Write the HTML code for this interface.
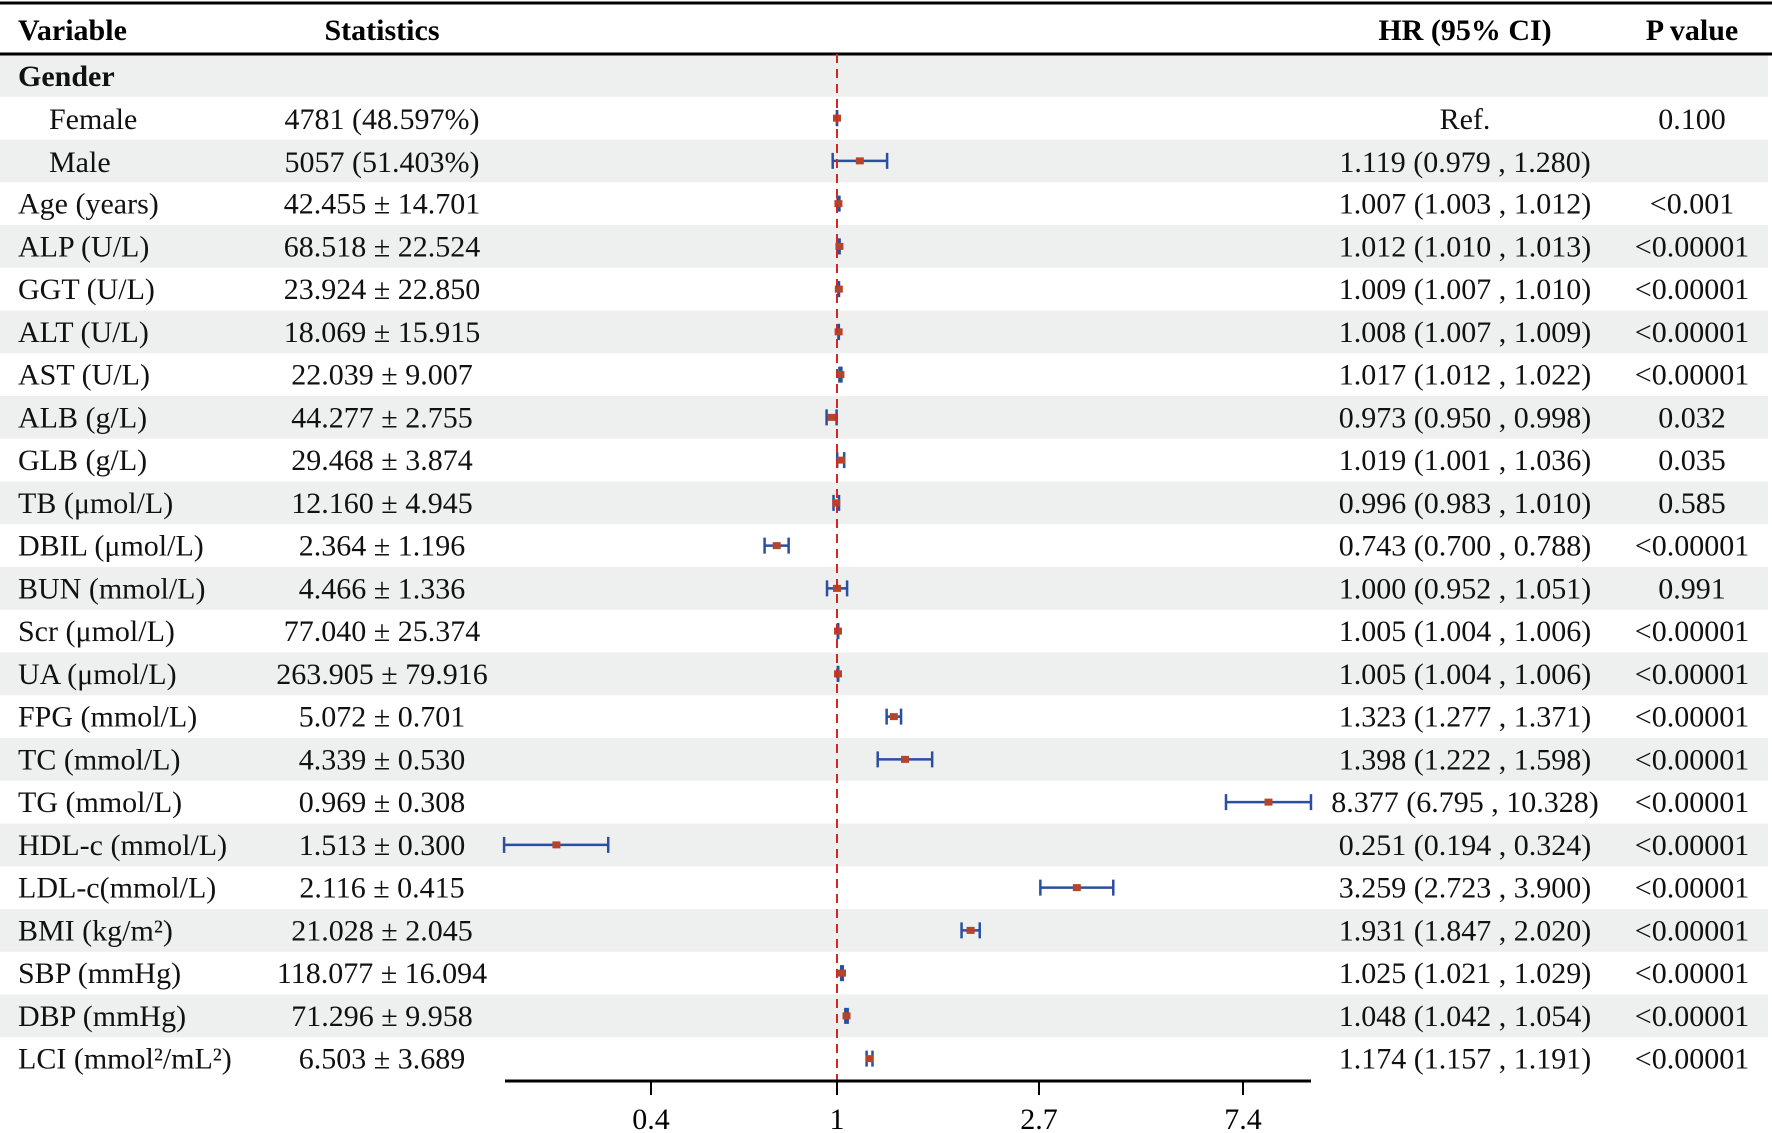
<!DOCTYPE html>
<html><head><meta charset="utf-8"><style>
html,body{margin:0;padding:0;background:#fff;}
svg{display:block;font-family:"Liberation Serif",serif;}
</style></head><body>
<svg id="s" width="1772" height="1133" viewBox="0 0 1772 1133" xmlns="http://www.w3.org/2000/svg">
<g id="bands"></g>
<line x1="0" y1="3" x2="1772" y2="3" stroke="#000" stroke-width="3"/>
<line x1="0" y1="54" x2="1772" y2="54" stroke="#000" stroke-width="3"/>
<g font-size="30" font-weight="bold">
<text x="18" y="40">Variable</text>
<text x="382" y="40" text-anchor="middle">Statistics</text>
<text x="1465" y="40" text-anchor="middle">HR (95% CI)</text>
<text x="1692" y="40" text-anchor="middle">P value</text>
</g>
<g id="txt" font-size="30" fill="#111">
<text x="18" y="86" font-weight="bold">Gender</text>
<text x="49" y="129">Female</text><text x="382" y="129" text-anchor="middle">4781 (48.597%)</text><text x="1465" y="129" text-anchor="middle">Ref.</text><text x="1692" y="129" text-anchor="middle">0.100</text>
<text x="49" y="172">Male</text><text x="382" y="172" text-anchor="middle">5057 (51.403%)</text><text x="1465" y="172" text-anchor="middle">1.119 (0.979 , 1.280)</text>
</g>
<g id="rest" font-size="30" fill="#111"></g>
<g id="plot"></g>
<line x1="837" y1="54" x2="837" y2="1081" stroke="#d7261e" stroke-width="2" stroke-dasharray="9,6"/>
<line x1="505" y1="1081" x2="1311" y2="1081" stroke="#000" stroke-width="3"/>
<g stroke="#000" stroke-width="2">
<line x1="651" y1="1081" x2="651" y2="1095"/><line x1="837" y1="1081" x2="837" y2="1095"/>
<line x1="1039" y1="1081" x2="1039" y2="1095"/><line x1="1243" y1="1081" x2="1243" y2="1095"/>
</g>
<g font-size="30" text-anchor="middle">
<text x="651" y="1129">0.4</text><text x="837" y="1129">1</text><text x="1039" y="1129">2.7</text><text x="1243" y="1129">7.4</text>
</g>
</svg>
<script>
var rows=[
["Age (years)","42.455 ± 14.701","1.007 (1.003 , 1.012)","<0.001",1.007,1.003,1.012],
["ALP (U/L)","68.518 ± 22.524","1.012 (1.010 , 1.013)","<0.00001",1.012,1.010,1.013],
["GGT (U/L)","23.924 ± 22.850","1.009 (1.007 , 1.010)","<0.00001",1.009,1.007,1.010],
["ALT (U/L)","18.069 ± 15.915","1.008 (1.007 , 1.009)","<0.00001",1.008,1.007,1.009],
["AST (U/L)","22.039 ± 9.007","1.017 (1.012 , 1.022)","<0.00001",1.017,1.012,1.022],
["ALB (g/L)","44.277 ± 2.755","0.973 (0.950 , 0.998)","0.032",0.973,0.950,0.998],
["GLB (g/L)","29.468 ± 3.874","1.019 (1.001 , 1.036)","0.035",1.019,1.001,1.036],
["TB (μmol/L)","12.160 ± 4.945","0.996 (0.983 , 1.010)","0.585",0.996,0.983,1.010],
["DBIL (μmol/L)","2.364 ± 1.196","0.743 (0.700 , 0.788)","<0.00001",0.743,0.700,0.788],
["BUN (mmol/L)","4.466 ± 1.336","1.000 (0.952 , 1.051)","0.991",1.000,0.952,1.051],
["Scr (μmol/L)","77.040 ± 25.374","1.005 (1.004 , 1.006)","<0.00001",1.005,1.004,1.006],
["UA (μmol/L)","263.905 ± 79.916","1.005 (1.004 , 1.006)","<0.00001",1.005,1.004,1.006],
["FPG (mmol/L)","5.072 ± 0.701","1.323 (1.277 , 1.371)","<0.00001",1.323,1.277,1.371],
["TC (mmol/L)","4.339 ± 0.530","1.398 (1.222 , 1.598)","<0.00001",1.398,1.222,1.598],
["TG (mmol/L)","0.969 ± 0.308","8.377 (6.795 , 10.328)","<0.00001",8.377,6.795,10.328],
["HDL-c (mmol/L)","1.513 ± 0.300","0.251 (0.194 , 0.324)","<0.00001",0.251,0.194,0.324],
["LDL-c(mmol/L)","2.116 ± 0.415","3.259 (2.723 , 3.900)","<0.00001",3.259,2.723,3.900],
["BMI (kg/m²)","21.028 ± 2.045","1.931 (1.847 , 2.020)","<0.00001",1.931,1.847,2.020],
["SBP (mmHg)","118.077 ± 16.094","1.025 (1.021 , 1.029)","<0.00001",1.025,1.021,1.029],
["DBP (mmHg)","71.296 ± 9.958","1.048 (1.042 , 1.054)","<0.00001",1.048,1.042,1.054],
["LCI (mmol²/mL²)","6.503 ± 3.689","1.174 (1.157 , 1.191)","<0.00001",1.174,1.157,1.191]];
var NS="http://www.w3.org/2000/svg",RH=42.75,T=54;
function el(p,n,a,t){var e=document.createElementNS(NS,n);for(var k in a)e.setAttribute(k,a[k]);if(t!=null)e.textContent=t;p.appendChild(e);return e;}
var B=document.getElementById("bands"),R=document.getElementById("rest"),P=document.getElementById("plot");
for(var i=0;i<24;i+=2)el(B,"rect",{x:0,y:T+i*RH,width:1768,height:RH,fill:"#eef0f0"});
function X(v){return 837+203*Math.log(v);}
function bar(i,v,l,h){var y=T+RH*(i+0.5);
el(P,"line",{x1:X(l),y1:y,x2:X(h),y2:y,stroke:"#2b4ea0","stroke-width":2.5});
el(P,"line",{x1:X(l),y1:y-8,x2:X(l),y2:y+8,stroke:"#2b4ea0","stroke-width":2.5});
el(P,"line",{x1:X(h),y1:y-8,x2:X(h),y2:y+8,stroke:"#2b4ea0","stroke-width":2.5});
el(P,"rect",{x:X(v)-4,y:y-3.5,width:8,height:7,fill:"#b5442a"});}
bar(1,1,1,1);bar(2,1.119,0.979,1.280);
rows.forEach(function(r,j){var i=j+3,y=T+RH*(i+0.5)+10;
el(R,"text",{x:18,y:y},r[0]);el(R,"text",{x:382,y:y,"text-anchor":"middle"},r[1]);
el(R,"text",{x:1465,y:y,"text-anchor":"middle"},r[2]);el(R,"text",{x:1692,y:y,"text-anchor":"middle"},r[3]);
bar(i,r[4],r[5],r[6]);});
</script>
</body></html>
